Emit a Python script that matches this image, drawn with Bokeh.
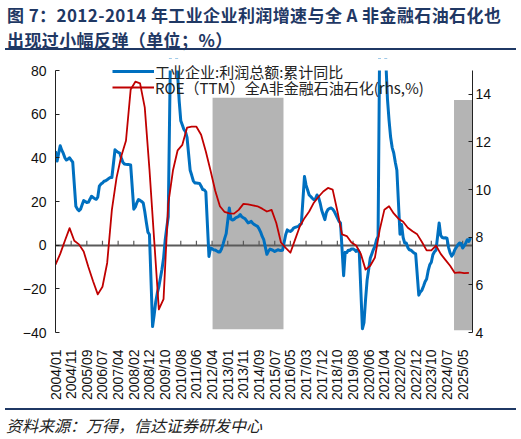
import math

from bokeh.embed import file_html
from bokeh.layouts import column
from bokeh.models import (Div, FixedTicker, Legend, LegendItem, LinearAxis, Range1d,
                          SingleIntervalTicker)
from bokeh.plotting import figure
from bokeh.resources import INLINE

# ---------------------------------------------------------------- data
# Monthly slots starting 2004/01; a label is shown every 10 slots.
tick_labels = ["2004/01", "2004/11", "2005/09", "2006/07", "2007/04", "2008/02",
               "2008/12", "2009/10", "2010/08", "2011/06", "2012/04", "2013/01",
               "2013/11", "2014/09", "2015/07", "2016/05", "2017/03", "2017/12",
               "2018/10", "2019/08", "2020/06", "2021/04", "2022/02", "2022/12",
               "2023/10", "2024/07", "2025/05"]
label_every = 10

# Industrial enterprises: total profit, cumulative YoY (%); None = no January print
profit_yoy = [
    43.0, 38.5, 42.0, 45.5, 43.5, 42.0, 40.0, 39.0, 39.5, 40.0, 39.0, 38.0,          # 2004
    None, 17.8, 16.5, 15.8, 16.5, 18.5, 20.4, 20.0, 19.5, 19.7, 21.0, 22.4,          # 2005
    None, 21.3, 21.0, 22.0, 27.0, 28.0, 28.5, 29.3, 29.5, 30.0, 30.5, 31.0, 31.0,    # 2006
    None, 43.7, 43.0, 42.5, 42.2, 40.0, 38.0, 37.2, 37.0, 36.9, 36.9, 36.7,          # 2007
    None, 16.5, 17.5, 19.5, 20.9, 20.5, 20.0, 19.4, 15.4, 10.5, 6.0, 4.9,            # 2008
    None, -37.3, -32.0, -26.0, -22.0, -19.0, -15.0, -11.0, -6.0, 2.0, 7.8, 13.0,     # 2009
    None, 119.0, 110.0, 100.0, 90.0, 78.0, 66.0, 57.0, 55.0, 53.0, 52.0, 49.4,       # 2010
    None, 34.3, 32.0, 29.5, 28.5, 28.5, 28.4, 28.3, 27.0, 25.5, 25.3, 24.4,          # 2011
    None, -5.2, -1.3, -1.6, -2.2, -2.2, -2.7, -3.1, -3.1, -1.8, 0.5, 3.0, 5.3,       # 2012
    None, 17.0, 12.0, 11.5, 11.8, 12.5, 12.8, 13.2, 14.0, 13.0, 12.5, 12.2,          # 2013
    None, 10.2, 10.5, 10.9, 10.0, 9.4, 9.0, 8.6, 7.5, 6.0, 4.0, 2.5,                 # 2014
    None, -4.2, -2.7, -1.8, -2.1, -2.4, -2.9, -2.5, -2.1, -2.3, -2.4, -2.3,          # 2015
    None, 4.8, 7.0, 6.5, 6.3, 6.8, 7.8, 8.1, 8.4, 8.6, 9.4, 9.8,                     # 2016
    None, 31.5, 27.5, 25.3, 23.0, 22.3, 21.5, 20.8, 21.2, 23.0, 21.9, 19.3, 16.0,    # 2017
    None, 11.7, 15.0, 16.3, 16.8, 17.0, 16.5, 15.5, 14.0, 12.5, 11.0, 10.2,          # 2018
    None, -14.0, -3.3, -3.4, -2.3, -2.4, -1.7, -1.7, -2.1, -2.9, -2.1, -3.3,         # 2019
    None, -38.3, -35.5, -25.0, -16.0, -11.0, -6.0, -4.0, -2.0, -0.5, 2.4, 4.1,       # 2020
    None, 178.9, 137.3, 106.0, 83.4, 66.9, 57.3, 49.5, 44.7, 42.2, 38.0, 34.3,       # 2021
    None, 5.0, 9.5, 3.5, 1.0, 1.0, -1.1, -2.1, -2.3, -3.0, -3.6, -4.0,               # 2022
    None, -22.9, -21.4, -20.6, -18.8, -16.8, -15.5, -11.7, -9.0, -7.8, -4.4, -3.0, -2.3,  # 2023
    None, 10.2, 4.5, 3.5, 3.3, 3.4, 3.2, -1.0, -3.5, -5.0, -4.0, -2.1,               # 2024
    None, 0.2, 1.0, 0.8, -1.3, -0.3, 1.0, 2.5, 1.7, 3.3,                             # 2025
]

# ROE (TTM), all-A ex financials & petrochemicals (%), one value every 3 slots
roe_step = 3
roe_ttm = [
    6.85, 7.30, 7.85, 8.38, 7.85, 7.70, 7.40, 6.75, 6.15, 5.60,
    5.92, 6.92, 9.15, 10.50, 11.40, 12.05, 14.20, 14.53, 14.46, 13.45,
    10.85, 7.90, 4.97, 5.40, 9.40, 10.80, 11.65, 11.88, 12.60, 12.64,
    12.64, 12.30, 11.60, 10.80, 9.95, 9.30, 9.06, 9.00, 8.99, 9.15,
    9.40, 9.38, 9.34, 9.30, 9.20, 9.08, 9.15, 8.60, 7.78, 7.55,
    7.35, 7.90, 8.45, 8.80, 9.08, 9.45, 9.70, 9.92, 10.07, 10.00,
    9.10, 8.12, 8.05, 7.78, 7.65, 7.30, 6.64, 6.80, 7.15, 8.30,
    9.15, 9.30, 9.00, 8.78, 8.65, 8.40, 8.25, 8.12, 7.80, 7.45,
    7.45, 7.65, 7.30, 7.05, 6.80, 6.50, 6.52, 6.49, 6.50,
]

# Highlighted periods (slot spans) and their vertical extent on the left scale
shade_start = [100.3, 254.5]
shade_end = [145.6, 266.3]
shade_top = [67.5, 66.5]
shade_bottom = [-38.5, -39.0]

# axis extents
left_min, left_max, left_step = -40, 80, 20
right_min, right_max, right_step = 4, 15, 2

TITLE_1 = "图 7：2012-2014 年工业企业利润增速与全 A 非金融石油石化也"
TITLE_2 = "出现过小幅反弹（单位；%）"
SOURCE = "资料来源：万得，信达证券研发中心"
LEGEND_PROFIT = "工业企业:利润总额:累计同比"
LEGEND_ROE = "ROE（TTM）全A非金融石油石化(rhs,%)"

# ---------------------------------------------------------------- styles
W = 521
NAVY = "#1f3864"
BLUE = "#0070c0"
RED = "#c00000"
GREY = "#b4b4b4"
ZERO = "#5a5a5a"
CJK = "Noto Sans CJK SC"
LATIN = "Liberation Sans"

# main canvas geometry (px)
MAIN_H = 356
B_LEFT, B_RIGHT, B_TOP, B_BOTTOM = 55, 49, 6, 76
AXIS_PAD = 12                      # frame room kept above the axes for the legend
FRAME_H = MAIN_H - B_TOP - B_BOTTOM
AXIS_H = FRAME_H - AXIS_PAD
left_top = left_max + AXIS_PAD * (left_max - left_min) / AXIS_H
right_top = right_max + AXIS_PAD * (right_max - right_min) / AXIS_H


def abs_box(top, left, css, inner=""):
    return (f'<div style="position:absolute;top:{top}px;left:{left}px;'
            f'white-space:nowrap;{css}">{inner}</div>')


# ---------------------------------------------------------------- heading
title_css = (f"font-family:'{CJK}';font-weight:bold;font-size:17px;"
             f"letter-spacing:0.4px;line-height:20px;color:{NAVY};")
head = Div(width=W, height=52, margin=(0, 0, 0, 0),
           text='<div style="position:relative;width:521px;height:52px;">'
                + abs_box(4.5, 7, title_css, TITLE_1)
                + abs_box(29.5, 7, title_css, TITLE_2)
                + abs_box(48, 5, f"width:511px;height:2px;background:{NAVY};")
                + "</div>")

# ---------------------------------------------------------------- chart
n_slots = len(profit_yoy)
x_end = n_slots + 0.3
p = figure(width=W, height=MAIN_H, x_range=Range1d(0, x_end),
           y_range=Range1d(left_min, left_top), output_backend="svg",
           toolbar_location=None)
p.min_border_left = B_LEFT
p.min_border_right = B_RIGHT
p.min_border_top = B_TOP
p.min_border_bottom = B_BOTTOM
p.outline_line_color = None
p.xgrid.visible = False
p.ygrid.visible = False
p.extra_y_ranges = {"roe": Range1d(right_min, right_top)}

p.quad(left=shade_start, right=shade_end, top=shade_top, bottom=shade_bottom,
       fill_color=GREY, line_color=None)

tick_pos = [i * label_every for i in range(len(tick_labels))]
p.hspan(y=[0], line_color=ZERO, line_width=2)
p.segment(x0=tick_pos, y0=[0] * len(tick_pos), x1=tick_pos, y1=[2.0] * len(tick_pos),
          line_color=ZERO, line_width=1.2)

px = [i for i, v in enumerate(profit_yoy) if v is not None]
py = [v for v in profit_yoy if v is not None]
blue = p.line(px, py, line_color=BLUE, line_width=3, line_join="round")

# keep the plotting area capped at the top of the left scale
p.quad(left=[0], right=[x_end], bottom=[left_max], top=[left_top],
       fill_color="white", line_color=None)

rx = [i * roe_step for i in range(len(roe_ttm))]
red = p.line(rx, roe_ttm, line_color=RED, line_width=1.8, line_join="round",
             y_range_name="roe")

# left axis
yl = p.yaxis[0]
yl.bounds = (left_min, left_max)
yl.ticker = SingleIntervalTicker(interval=left_step, num_minor_ticks=0)
yl.major_tick_in = 4
yl.major_tick_out = 0
yl.minor_tick_line_color = None
yl.axis_line_color = "#222222"
yl.major_tick_line_color = "#222222"
yl.major_label_standoff = 9
yl.major_label_text_font = LATIN
yl.major_label_text_font_size = "14px"
yl.major_label_text_color = "#111111"

# right axis
yr = LinearAxis(y_range_name="roe", bounds=(right_min, right_max),
                ticker=SingleIntervalTicker(interval=right_step, num_minor_ticks=0))
yr.major_tick_in = 4
yr.major_tick_out = 0
yr.minor_tick_line_color = None
yr.axis_line_color = "#222222"
yr.major_tick_line_color = "#222222"
yr.major_label_standoff = 3
yr.major_label_text_font = LATIN
yr.major_label_text_font_size = "14px"
yr.major_label_text_color = "#111111"
p.add_layout(yr, "right")

# bottom labels
xa = p.xaxis[0]
xa.ticker = FixedTicker(ticks=tick_pos)
xa.major_label_overrides = {t: s for t, s in zip(tick_pos, tick_labels)}
xa.major_label_orientation = math.pi / 2
xa.axis_line_color = None
xa.major_tick_line_color = None
xa.minor_tick_line_color = None
xa.major_label_standoff = 11
xa.major_label_text_font = LATIN
xa.major_label_text_font_size = "14px"
xa.major_label_text_color = "#111111"

# legend: one box per series so each row sits exactly where wanted
frame_bottom = B_TOP + FRAME_H
legend_style = dict(orientation="vertical", background_fill_alpha=0,
                    border_line_color=None, padding=0, margin=0, spacing=0,
                    glyph_width=42, glyph_height=16, label_height=16, label_standoff=1,
                    label_text_font=CJK, label_text_font_size="15px",
                    label_text_color="#222222")
p.add_layout(Legend(items=[LegendItem(label=LEGEND_PROFIT, renderers=[blue])],
                    location=(57, frame_bottom - 29.7), **legend_style))
p.add_layout(Legend(items=[LegendItem(label=LEGEND_ROE, renderers=[red])],
                    location=(57, frame_bottom - 45.7), **legend_style))

# ---------------------------------------------------------------- source note
src_css = (f"font-family:'{CJK}';font-style:italic;font-size:16px;"
           f"line-height:20px;color:#222222;")
foot = Div(width=W, height=31, margin=(0, 0, 0, 0),
           text='<div style="position:relative;width:521px;height:31px;">'
                + abs_box(0, 5, f"width:511px;height:2px;background:{NAVY};")
                + abs_box(7, 6, src_css, SOURCE)
                + "</div>")

layout = column(head, p, foot, spacing=0)
open("out.html", "w").write(file_html(layout, INLINE))
